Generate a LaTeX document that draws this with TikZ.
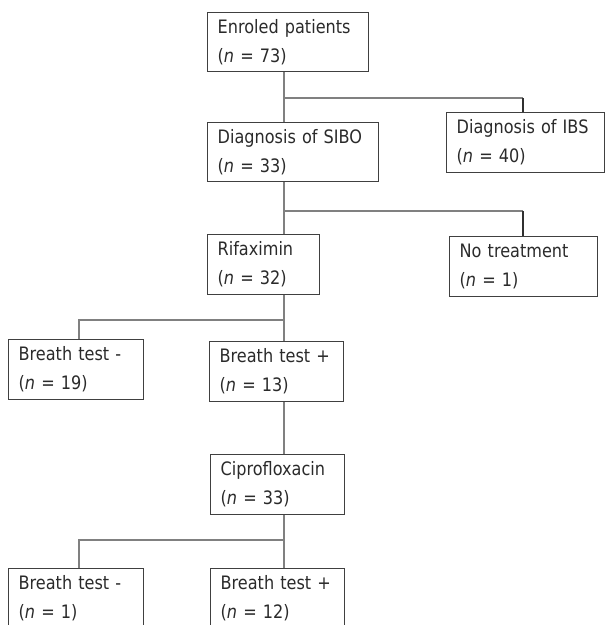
\documentclass[tikz,border=0pt]{standalone}
\usepackage{fontspec}
\setmainfont{DejaVu Sans}[FakeStretch=0.87]
\definecolor{boxc}{HTML}{404040}
\definecolor{txtc}{HTML}{2A2A2A}
\definecolor{linec}{HTML}{808080}
\definecolor{darkc}{HTML}{303030}
\begin{document}
\begin{tikzpicture}[x=1pt,y=-1pt,
  box/.style={draw=boxc, line width=1.3pt, anchor=north west, inner xsep=10pt,
    inner ysep=0pt, align=left, text=txtc,
    font=\fontsize{18.5}{29}\selectfont},
  conn/.style={draw=linec, line width=2pt},
  thinconn/.style={draw=darkc, line width=1.2pt}]
\useasboundingbox (0,0) rectangle (606,625);
\clip (0,0) rectangle (606,625);
% boxes: text width = width - 20, minimum height = height
\node[box, text width=141pt, minimum height=59pt] (enrol) at (207,12) {Enroled patients\\(\textit{n} = 73)};
\node[box, text width=151pt, minimum height=59pt] (sibo) at (207,122) {Diagnosis of SIBO\\(\textit{n} = 33)};
\node[box, text width=138pt, minimum height=60pt] (ibs) at (446,112) {Diagnosis of IBS\\(\textit{n} = 40)};
\node[box, text width=92pt, minimum height=60pt] (rifax) at (207,234) {Rifaximin\\(\textit{n} = 32)};
\node[box, text width=128pt, minimum height=60pt] (notreat) at (449,236) {No treatment\\(\textit{n} = 1)};
\node[box, text width=115pt, minimum height=60pt] (bta) at (8,339) {Breath test -\\(\textit{n} = 19)};
\node[box, text width=114pt, minimum height=60pt] (btb) at (209,341) {Breath test +\\(\textit{n} = 13)};
\node[box, text width=114pt, minimum height=60pt] (cipro) at (210,454) {Ciprofloxacin\\(\textit{n} = 33)};
\node[box, text width=115pt, minimum height=60pt] (btc) at (8,568) {Breath test -\\(\textit{n} = 1)};
\node[box, text width=114pt, minimum height=60pt] (btd) at (210,568) {Breath test +\\(\textit{n} = 12)};
% trunk and branch positions
\coordinate (tk) at (284,0);
\coordinate (rx) at (523,0);
\coordinate (lx) at (79,0);
\coordinate (j1) at (284,98);
\coordinate (j2) at (284,211);
\coordinate (j3) at (284,320);
\coordinate (j4) at (284,540);
% connectors
\draw[conn] (enrol.south -| tk) -- (sibo.north -| tk);
\draw[conn] (j1) -- (j1 -| rx);
\draw[thinconn] (j1 -| rx) -- (ibs.north -| rx);
\draw[conn] (sibo.south -| tk) -- (rifax.north -| tk);
\draw[conn] (j2) -- (j2 -| rx);
\draw[thinconn] (j2 -| rx) -- (notreat.north -| rx);
\draw[conn] (rifax.south -| tk) -- (btb.north -| tk);
\draw[conn] (j3) -| (bta.north -| lx);
\draw[conn] (btb.south -| tk) -- (cipro.north -| tk);
\draw[conn] (cipro.south -| tk) -- (btd.north -| tk);
\draw[conn] (j4) -| (btc.north -| lx);
\end{tikzpicture}
\end{document}
